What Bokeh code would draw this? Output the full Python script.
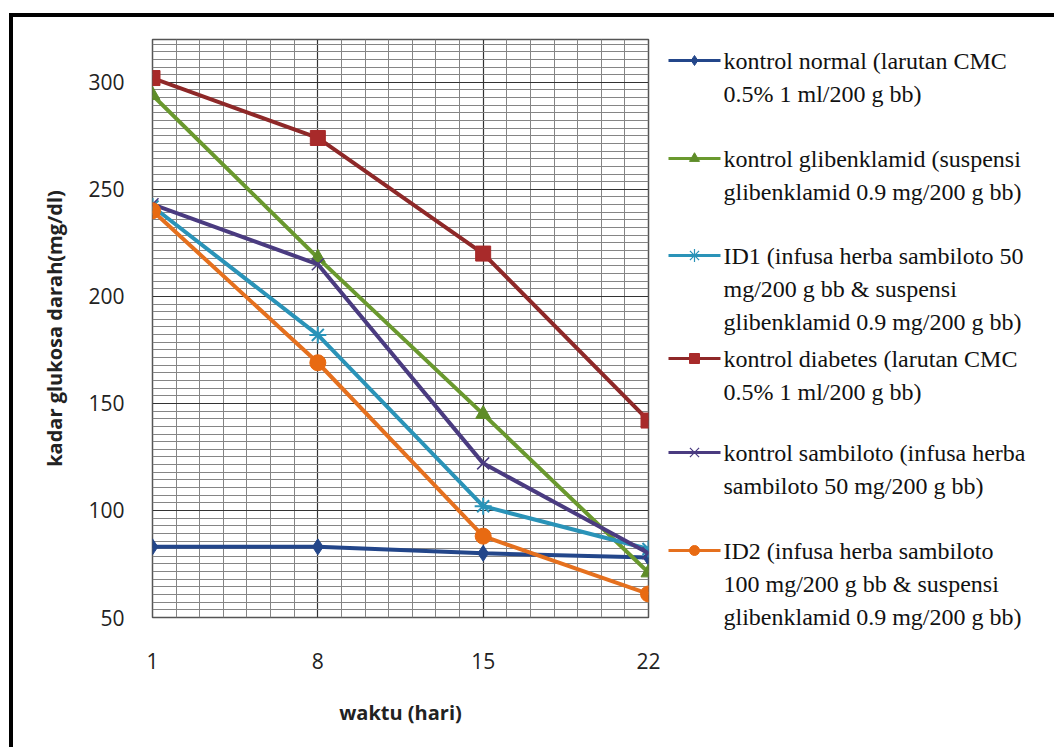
from bokeh.plotting import figure
from bokeh.models import FixedTicker, Range1d, Spacer, Div, ColumnDataSource
from bokeh.layouts import row, column
from bokeh.core.properties import value
from bokeh.embed import file_html
from bokeh.resources import INLINE
import numpy as np

# ---------------- data ----------------
days = [1, 8, 15, 22]
x_ticks = [1, 8, 15, 22]
y_ticks = [50, 100, 150, 200, 250, 300]

kontrol_normal = [83, 83, 80, 78]
kontrol_glibenklamid = [294, 218, 145, 71]
id1 = [242, 182, 102, 82]
kontrol_diabetes = [302, 274, 220, 142]
kontrol_sambiloto = [243, 215, 122, 80]
id2 = [240, 169, 88, 61]

legend_texts = [
    ["kontrol normal (larutan CMC", "0.5% 1 ml/200 g bb)"],
    ["kontrol glibenklamid (suspensi", "glibenklamid 0.9 mg/200 g bb)"],
    ["ID1 (infusa herba sambiloto 50", "mg/200 g bb & suspensi", "glibenklamid 0.9 mg/200 g bb)"],
    ["kontrol diabetes (larutan CMC", "0.5% 1 ml/200 g bb)"],
    ["kontrol sambiloto (infusa herba", "sambiloto 50 mg/200 g bb)"],
    ["ID2 (infusa herba sambiloto", "100 mg/200 g bb & suspensi", "glibenklamid 0.9 mg/200 g bb)"],
]

x_label = "waktu (hari)"
y_label = "kadar glukosa darah(mg/dl)"

# ---------------- styling ----------------
series = [
    (kontrol_normal, "#23468A", "diamond", 16, 1),
    (kontrol_glibenklamid, "#6A992E", "triangle", 15, 1),
    (id1, "#2A93B8", "asterisk", 17, 2),
    (kontrol_diabetes, "#8E2828", "square", 15, 1),
    (kontrol_sambiloto, "#4A3B80", "x", 17, 1.5),
    (id2, "#E5701E", "circle", 16, 1),
]
marker_fill = ["#23468A", "#5E8C28", "#2A93B8", "#A82A2A", "#4A3B80", "#E86A12"]

# canvas geometry (page pixels)
OX, OY = 13, 17                 # content origin inside the black frame
PL, PR, PT, PB = 152, 648, 39, 617   # plot frame edges
SPLIT = 665                     # where the legend panel starts
H = 747 - OY

p = figure(frame_width=PR - PL, frame_height=PB - PT,
           min_border_left=PL - OX, min_border_right=SPLIT - PR,
           min_border_top=PT - OY, min_border_bottom=747 - PB,
           x_range=Range1d(1, 22), y_range=Range1d(50, 320),
           output_backend="svg", toolbar_location=None)
p.frame_align = False

p.background_fill_color = "white"
p.border_fill_color = "white"
p.outline_line_color = "#555555"
p.outline_line_width = 1.5

xt = FixedTicker(ticks=x_ticks, minor_ticks=list(range(1, 23)))
yt = FixedTicker(ticks=y_ticks, minor_ticks=list(np.arange(50, 320.01, 50 / 14)))
p.xaxis.ticker = xt
p.yaxis.ticker = yt
p.xgrid.ticker = xt
p.ygrid.ticker = yt

for g in (p.xgrid, p.ygrid):
    g.grid_line_color = "#333333"
    g.grid_line_width = 1.2
    g.minor_grid_line_color = "#858585"
    g.minor_grid_line_width = 1

for ax in (p.xaxis, p.yaxis):
    ax.axis_line_color = None
    ax.major_tick_line_color = None
    ax.minor_tick_line_color = None
    ax.major_label_text_font = "Open Sans"
    ax.major_label_text_font_size = "21px"
    ax.major_label_text_color = "#222222"
    ax.axis_label_text_font = "Open Sans"
    ax.axis_label_text_font_size = "20px"
    ax.axis_label_text_font_style = "bold"
    ax.axis_label_text_color = "#222222"

p.xaxis.axis_label = x_label
p.yaxis.axis_label = y_label
p.xaxis.major_label_standoff = 29
p.yaxis.major_label_standoff = 22
p.xaxis.axis_label_standoff = 27
p.yaxis.axis_label_standoff = 17

for (vals, col, mk, sz, lw), fc in zip(series, marker_fill):
    p.line(days, vals, line_color=col, line_width=4)
    if mk in ("asterisk", "x"):
        p.scatter(days, vals, marker=mk, size=sz, line_color=col, line_width=lw)
    else:
        p.scatter(days, vals, marker=mk, size=sz, fill_color=fc, line_color=fc)

# ---------------- legend panel ----------------
leg = figure(width=1054 - SPLIT, height=H,
             x_range=Range1d(SPLIT, 1054), y_range=Range1d(747, OY),
             x_axis_type=None, y_axis_type=None, min_border=0,
             output_backend="svg", toolbar_location=None)
leg.frame_align = False
leg.grid.visible = False
leg.outline_line_color = None
leg.background_fill_color = "white"
leg.border_fill_color = "white"

first_line_y = [60, 158, 255, 358, 452, 550]
line_gap = 33
sym_x0, sym_x1, sym_xc, text_x = 668, 720, 694, 723

tx, ty, tt = [], [], []
for (vals, col, mk, sz, lw), fc, lines, y0 in zip(series, marker_fill, legend_texts, first_line_y):
    leg.line([sym_x0, sym_x1], [y0, y0], line_color=col, line_width=3)
    if mk in ("asterisk", "x"):
        leg.scatter([sym_xc], [y0], marker=mk, size=13, line_color=col, line_width=1.2)
    else:
        leg.scatter([sym_xc], [y0], marker=mk, size=10, fill_color=fc, line_color=fc)
    for k, txt in enumerate(lines):
        tx.append(text_x)
        ty.append(y0 + k * line_gap)
        tt.append(txt)

leg.text(x="x", y="y", text="text", source=ColumnDataSource(dict(x=tx, y=ty, text=tt)),
         text_font=value("Liberation Serif"), text_font_size=value("24px"),
         text_color="#111111", text_baseline="middle", text_align="left")

# ---------------- black frame (top and left edges) ----------------
top_bar = Div(width=1054 - 9, height=4, margin=0, styles={"background-color": "black"})
left_bar = Div(width=4, height=H, margin=0, styles={"background-color": "black"})

layout = column(
    Spacer(width=1054, height=13, margin=0),
    row(Spacer(width=9, height=4, margin=0), top_bar, margin=0),
    row(Spacer(width=9, height=H, margin=0), left_bar, p, leg, margin=0),
    margin=0,
)

open("out.html", "w").write(file_html(layout, INLINE))
